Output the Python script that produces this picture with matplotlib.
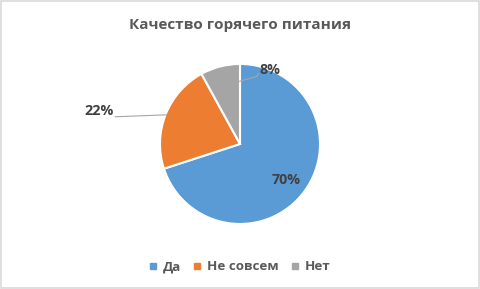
import numpy as np
import matplotlib.pyplot as plt
from matplotlib.patches import Rectangle
from matplotlib.lines import Line2D

plt.rcParams['font.family'] = ['Open Sans', 'DejaVu Sans']

# Data
title = "Качество горячего питания"
categories = ["Да", "Не совсем", "Нет"]
shares = [70, 22, 8]
colors = ["#5B9BD5", "#ED7D31", "#A5A5A5"]

# label positions (axes data units, pie radius = 1)
label_pos = [(0.58, -0.45), (-1.76, 0.41), (0.37, 0.93)]
leader = [False, True, True]

fig = plt.figure(figsize=(4.8, 2.89), dpi=100)
fig.patches.append(Rectangle((0.002, 0.003), 0.996, 0.994, transform=fig.transFigure,
                             fill=False, edgecolor="#D9D9D9", linewidth=1.2))

ax = fig.add_axes([1/3, 0.225, 1/3, 160/289])
wedges, _ = ax.pie(shares, colors=colors, startangle=90, counterclock=False,
                   wedgeprops=dict(edgecolor="white", linewidth=1.5))
ax.set_xlim(-1, 1)
ax.set_ylim(-1, 1)
ax.set_aspect("auto")

for w, s, (lx, ly), lead in zip(wedges, shares, label_pos, leader):
    ax.text(lx, ly, f"{s}%", ha="center", va="center", fontsize=10.3,
            fontweight="bold", color="#404040", clip_on=False)
    if lead:
        mid = np.deg2rad((w.theta1 + w.theta2) / 2)
        r = 0.99 if s > 10 else 0.82
        ex, ey = r * np.cos(mid), r * np.sin(mid)
        if s > 10:
            sx = lx + 0.2
            ax.plot([sx, ex], [ly - 0.07, ey], color="#A6A6A6", lw=0.8, clip_on=False)
        else:
            ax.plot([ex + 0.2, lx - 0.28 + 0.12, lx - 0.14], [ey - 0.01, ey + 0.05, ly - 0.05],
                    color="#A6A6A6", lw=0.8, clip_on=False)

fig.text(0.5, 1 - 25/289, title, ha="center", va="center", fontsize=11,
         fontweight="bold", color="#595959")

handles = [Line2D([], [], marker="s", linestyle="none", markersize=5,
                  markerfacecolor=c, markeredgecolor=c) for c in colors]
leg = fig.legend(handles, categories, loc="center", bbox_to_anchor=(0.5, 1 - 267/289),
                 ncol=3, frameon=False, handlelength=0.6, handletextpad=0.45,
                 columnspacing=0.9, prop=dict(size=9.6, weight="bold"))
for t in leg.get_texts():
    t.set_color("#595959")

fig.savefig("out.png", dpi=100)
